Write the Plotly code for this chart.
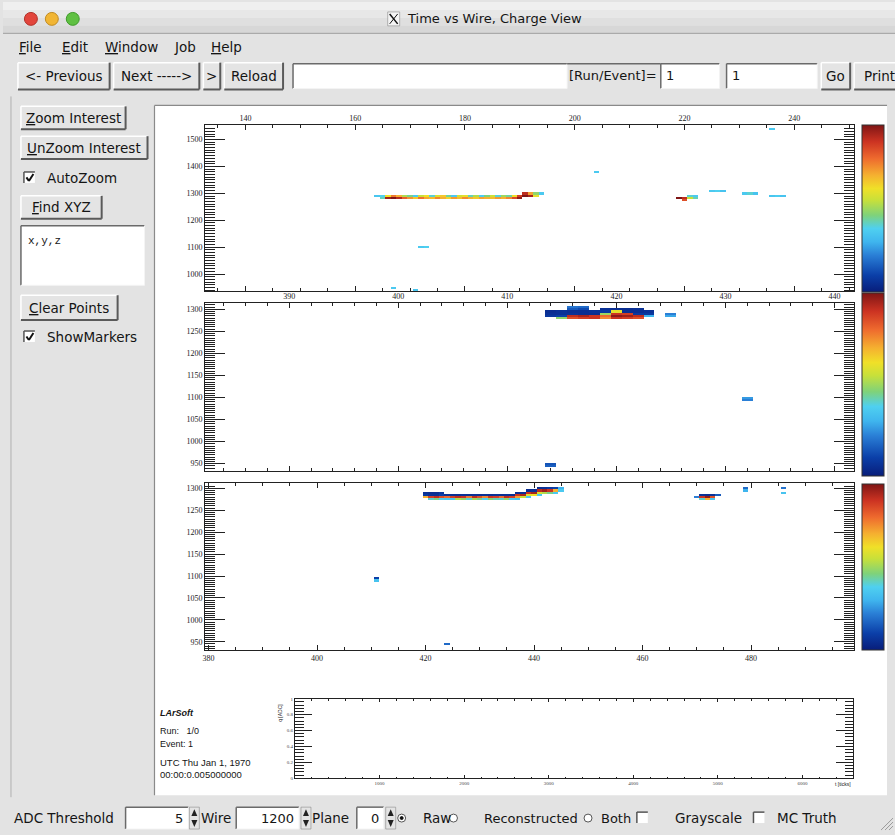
import plotly.graph_objects as go

W, H = 895, 835

# ---------------- data: hits (wire, tick, ADC) per plane ----------------
# plane 0 (top view)
plane0_wire = [164, 165, 166, 167, 168, 169, 170, 171, 172, 173, 174, 175, 176, 177, 178, 179,
               180, 181, 182, 183, 184, 185, 186, 187, 188, 189, 190, 191, 192, 193, 194,
               165, 166, 167, 168, 169, 170, 171, 172, 173, 174, 175, 176, 177, 178, 179,
               180, 181, 182, 183, 184, 185, 186, 187, 188, 189, 190, 191, 192, 193,
               204, 219, 220, 220, 221, 222, 221, 222, 225, 226, 227, 231, 232, 233,
               236, 237, 238, 236, 172, 173, 167, 171]
plane0_tick = [1292, 1292, 1292, 1292, 1292, 1292, 1292, 1292, 1292, 1292, 1292, 1292, 1292, 1292, 1292, 1292,
               1292, 1292, 1292, 1292, 1292, 1292, 1292, 1292, 1292, 1292, 1292, 1300, 1300, 1300, 1300,
               1284, 1284, 1284, 1284, 1284, 1284, 1284, 1284, 1284, 1284, 1284, 1284, 1284, 1284, 1284,
               1284, 1284, 1284, 1284, 1284, 1284, 1284, 1284, 1284, 1284, 1284, 1292, 1292, 1292,
               1380, 1284, 1284, 1276, 1284, 1284, 1292, 1292, 1308, 1308, 1308, 1300, 1300, 1300,
               1292, 1292, 1292, 1540, 1100, 1100, 948, 940]
plane0_adc = [35, 38, 62, 78, 70, 52, 45, 36, 55, 62, 40, 58, 66, 44, 36, 57,
              60, 42, 52, 37, 46, 56, 40, 50, 44, 62, 88, 92, 72, 48, 36,
              42, 96, 100, 93, 82, 74, 66, 79, 71, 68, 76, 70, 64, 73, 68,
              75, 70, 66, 72, 70, 68, 73, 70, 76, 86, 98, 100, 95, 60,
              36, 100, 92, 85, 55, 42, 40, 36, 36, 38, 34, 36, 40, 34,
              35, 37, 34, 36, 36, 38, 36, 35]

# plane 1 (middle view)
plane1_wire = [416, 417,
               416, 417, 419, 420, 421, 422,
               414, 415, 416, 417, 418, 419, 420, 421, 422, 423,
               414, 415, 416, 417, 418, 419, 420, 421, 422, 423,
               414, 415, 416, 417, 418, 419, 420, 421, 422, 423,
               415, 416, 417, 418, 419, 420, 421, 422,
               425, 425, 432, 432, 414, 414]
plane1_tick = [1305, 1305,
               1300, 1300, 1300, 1300, 1300, 1300,
               1295, 1295, 1295, 1295, 1295, 1295, 1295, 1295, 1295, 1295,
               1290, 1290, 1290, 1290, 1290, 1290, 1290, 1290, 1290, 1290,
               1285, 1285, 1285, 1285, 1285, 1285, 1285, 1285, 1285, 1285,
               1280, 1280, 1280, 1280, 1280, 1280, 1280, 1280,
               1290, 1285, 1100, 1095, 950, 945]
plane1_adc = [20, 18,
              15, 12, 6, 5, 5, 6,
              5, 6, 5, 5, 6, 8, 60, 5, 5, 6,
              6, 6, 6, 5, 5, 50, 90, 88, 8, 8,
              8, 10, 92, 95, 90, 80, 98, 96, 92, 30,
              48, 85, 88, 90, 75, 90, 88, 85,
              22, 28, 26, 22, 14, 16]

# plane 2 (bottom view)
plane2_wire = [420, 420, 420, 421, 421, 421, 421, 422, 422, 422, 422, 423, 423, 423, 423,
               424, 424, 424, 425, 425, 425, 426, 426, 426, 427, 427, 427, 428, 428, 428,
               429, 429, 429, 430, 430, 430, 431, 431, 431, 432, 432, 432, 433, 433, 433,
               434, 434, 434, 435, 435, 435, 436, 436, 436,
               437, 437, 437, 437, 438, 438, 438, 439, 439, 439, 439, 440, 440, 440,
               441, 441, 441, 441, 442, 442, 442, 443, 443, 443, 444, 444, 444, 445, 445,
               470, 471, 471, 471, 472, 472, 472, 473, 473, 473, 474,
               479, 479, 486, 486, 411, 411, 424]
plane2_tick = [1290, 1285, 1280, 1290, 1285, 1280, 1275, 1290, 1285, 1280, 1275, 1290, 1285, 1280, 1275,
               1285, 1280, 1275, 1285, 1280, 1275, 1285, 1280, 1275, 1285, 1280, 1275, 1285, 1280, 1275,
               1285, 1280, 1275, 1285, 1280, 1275, 1285, 1280, 1275, 1285, 1280, 1275, 1285, 1280, 1275,
               1285, 1280, 1275, 1285, 1280, 1275, 1285, 1280, 1275,
               1290, 1285, 1280, 1275, 1290, 1285, 1280, 1295, 1290, 1285, 1280, 1295, 1290, 1285,
               1300, 1295, 1290, 1285, 1300, 1295, 1290, 1300, 1295, 1290, 1300, 1295, 1290, 1300, 1295,
               1280, 1285, 1280, 1275, 1285, 1280, 1275, 1285, 1280, 1275, 1285,
               1300, 1295, 1300, 1290, 1095, 1090, 945]
plane2_adc = [6, 8, 70, 5, 6, 88, 40, 5, 6, 92, 45, 8, 10, 85, 38,
              6, 80, 36, 5, 88, 35, 5, 92, 52, 6, 90, 48, 5, 78, 40,
              6, 92, 50, 5, 85, 45, 6, 76, 38, 5, 90, 46, 6, 88, 42,
              5, 80, 40, 6, 92, 48, 5, 88, 36,
              5, 90, 72, 34, 6, 94, 55, 5, 90, 60, 36, 6, 95, 62,
              5, 92, 58, 36, 6, 96, 52, 8, 90, 45, 10, 70, 36, 30, 36,
              22, 6, 90, 40, 5, 98, 70, 6, 85, 35, 15,
              18, 30, 20, 34, 10, 34, 18]

plane0_xticks = [140, 160, 180, 200, 220, 240]
plane0_yticks = [1000, 1100, 1200, 1300, 1400, 1500]
plane1_xticks = [390, 400, 410, 420, 430, 440]
plane1_yticks = [950, 1000, 1050, 1100, 1150, 1200, 1250, 1300]
plane2_xticks = [380, 400, 420, 440, 460, 480]
plane2_yticks = [950, 1000, 1050, 1100, 1150, 1200, 1250, 1300]
wave_xticks = [1000, 2000, 3000, 4000, 5000, 6000]
wave_yticks = [0, 0.2, 0.4, 0.6, 0.8, 1]
wave_yticklabels = ["0", "0.2", "0.4", "0.6", "0.8", "1"]

ROOT_SCALE = [[0.00, "#081d7a"], [0.10, "#0b3fa8"], [0.22, "#2a7fd6"], [0.30, "#3fb5ee"],
              [0.38, "#4fd0f0"], [0.46, "#7fd27a"], [0.55, "#c8e03a"], [0.62, "#f0e028"],
              [0.70, "#f5b030"], [0.80, "#ee6a2e"], [0.90, "#cc3322"], [1.00, "#7f1515"]]


def X(x):
    return x / W


def Y(y):
    return 1 - y / H


shapes, annots = [], []


def rect(x0, y0, x1, y1, fill=None, line=None, lw=0, layer="below"):
    shapes.append(dict(type="rect", xref="paper", yref="paper", x0=X(x0), x1=X(x1),
                       y0=Y(y1), y1=Y(y0), fillcolor=fill or "rgba(0,0,0,0)",
                       line=dict(color=line or "rgba(0,0,0,0)", width=lw), layer=layer))


def seg(x0, y0, x1, y1, color, lw=1, layer="below"):
    shapes.append(dict(type="line", xref="paper", yref="paper", x0=X(x0), x1=X(x1),
                       y0=Y(y0), y1=Y(y1), line=dict(color=color, width=lw), layer=layer))


def path(pts, fill, line=None, lw=0, layer="below"):
    d = "M " + " L ".join(f"{X(a):.5f},{Y(b):.5f}" for a, b in pts) + " Z"
    shapes.append(dict(type="path", xref="paper", yref="paper", path=d, fillcolor=fill,
                       line=dict(color=line or "rgba(0,0,0,0)", width=lw), layer=layer))


def circle(cx, cy, r, fill=None, line="#555", lw=1):
    shapes.append(dict(type="circle", xref="paper", yref="paper", x0=X(cx - r), x1=X(cx + r),
                       y0=Y(cy + r), y1=Y(cy - r), fillcolor=fill or "rgba(0,0,0,0)",
                       line=dict(color=line, width=lw), layer="below"))


def text(x, y, s, size=13.5, anchor="left", color="#151515", family="DejaVu Sans", angle=0):
    annots.append(dict(x=X(x), y=Y(y), xref="paper", yref="paper", text=s, showarrow=False,
                       xanchor=anchor, yanchor="middle", borderpad=0, textangle=angle,
                       font=dict(size=size, color=color, family=family)))


def button(x0, y0, x1, y1, label, size=13.5):
    rect(x0, y0, x1, y1, fill="#e4e4e4")
    seg(x0, y0, x1, y0, "#ffffff", 1.5)
    seg(x0, y0, x0, y1, "#ffffff", 1.5)
    seg(x0, y1, x1, y1, "#5a5a5a", 2)
    seg(x1, y0, x1, y1, "#5a5a5a", 2)
    text((x0 + x1) / 2, (y0 + y1) / 2, label, size=size, anchor="center")


def entry(x0, y0, x1, y1, fill="#ffffff"):
    rect(x0, y0, x1, y1, fill=fill)
    seg(x0, y0, x1, y0, "#6a6a6a", 1.5)
    seg(x0, y0, x0, y1, "#6a6a6a", 1.5)
    seg(x0, y1, x1, y1, "#f4f4f4", 1)
    seg(x1, y0, x1, y1, "#f4f4f4", 1)


def checkbox(x0, y0, size=11, checked=True):
    rect(x0, y0, x0 + size, y0 + size, fill="#ffffff")
    seg(x0, y0, x0 + size, y0, "#555", 1.5)
    seg(x0, y0, x0, y0 + size, "#555", 1.5)
    if checked:
        seg(x0 + 2.5, y0 + 5.5, x0 + 5, y0 + 9, "#111", 2)
        seg(x0 + 5, y0 + 9, x0 + 9.5, y0 + 2, "#111", 2)


def spin(x, y0, y1):
    ym = (y0 + y1) / 2
    rect(x, y0, x + 10, y1, fill="#e4e4e4", line="#888", lw=0.6)
    path([(x + 2, ym - 2), (x + 8, ym - 2), (x + 5, y0 + 2)], "#222")
    path([(x + 2, ym + 2), (x + 8, ym + 2), (x + 5, y1 - 2)], "#222")


# ---------------- window chrome ----------------
bands = ["#efefef", "#e7e7e7", "#dfdfdf", "#d7d7d7"]
for k, c in enumerate(bands):
    rect(0, k * 8, W, k * 8 + 8 if k < 3 else 31, fill=c)
seg(0, 31.5, W, 31.5, "#9c9c9c", 1)
circle(28, 17, 6.5, fill="#e2453c", line="#b03028")
circle(49, 17, 6.5, fill="#f1b534", line="#c08a20")
circle(70, 17, 6.5, fill="#5fc042", line="#3f9a2a")
rect(386, 10, 398, 24, fill="#f4f4f4", line="#888", lw=0.6)
seg(388, 12, 396, 22, "#111", 1.5)
seg(396, 12, 388, 22, "#111", 1)
text(404, 17, "Time vs Wire, Charge View", size=13)

# menu
menu = [(15, "<u>F</u>ile"), (58, "<u>E</u>dit"), (101, "<u>W</u>indow"), (171, "<u>J</u>ob"), (208, "<u>H</u>elp")]
for x, s in menu:
    text(x, 45, s, size=13.5)

# toolbar
button(15, 61, 107, 88, "&lt;- Previous")
button(111, 61, 197, 88, "Next -----&gt;")
button(201, 61, 218, 88, "&gt;")
button(222, 61, 281, 88, "Reload")
entry(291, 62, 566, 87)
seg(566, 62, 660, 62, "#6a6a6a", 1.5)
text(657, 74, "[Run/Event]=", size=13, anchor="right")
entry(660, 62, 719, 87)
text(664, 74, "1", size=13)
entry(726, 62, 817, 87)
text(730, 74, "1", size=13)
button(821, 61, 850, 88, "Go")
button(854, 61, 905, 88, "Print")

# left column
seg(8, 95, 8, 800, "#b0b0b0", 1)
button(18, 105, 123, 128, "<u>Z</u>oom Interest")
button(18, 135, 145, 158, "<u>U</u>nZoom Interest")
checkbox(21, 171)
text(43, 177, "AutoZoom", size=13.5)
button(18, 195, 99, 218, "<u>F</u>ind XYZ")
entry(18, 225, 142, 285)
text(24, 240, "x,y,z", size=11, family="Liberation Mono")
button(18, 295, 115, 320, "<u>C</u>lear Points")
checkbox(21, 331)
text(43, 337, "ShowMarkers", size=13.5)

# canvas
rect(152, 104, 887, 798, fill="#ffffff")
seg(152, 104, 887, 104, "#8a8a8a", 1.2)
seg(152, 104, 152, 798, "#8a8a8a", 1.2)

# bottom controls
text(10, 821, "ADC Threshold", size=13.5)
entry(123, 810, 186, 832)
text(182, 821, "5", size=13, anchor="right")
spin(187, 810, 832)
text(198, 821, "Wire", size=13.5)
entry(234, 810, 297, 832)
text(293, 821, "1200", size=13, anchor="right")
spin(299, 810, 832)
text(309, 821, "Plane", size=13.5)
entry(355, 810, 382, 832)
text(378, 821, "0", size=13, anchor="right")
spin(384, 810, 832)
circle(400, 821, 4, fill="#ffffff", line="#555")
circle(400, 821, 1.5, fill="#111", line="#111")
text(420, 821, "Raw", size=13.5)
circle(452, 821, 4, fill="#ffffff", line="#555")
text(482, 821, "Reconstructed", size=13)
circle(587, 821, 4, fill="#ffffff", line="#555")
text(599, 821, "Both", size=13)
checkbox(636, 815, checked=False)
text(673, 821, "Grayscale", size=13.5)
checkbox(753, 815, checked=False)
text(776, 821, "MC Truth", size=13.5)
for k in range(3):
    seg(893 - 4 * k - 4, 833, 893, 833 - 4 * k - 4, "#9a9a9a", 1, "above")

# run info text
text(157, 715, "<b><i>LArSoft</i></b>", size=9, family="Liberation Sans")
text(157, 733, "Run:   1/0", size=9, family="Liberation Sans")
text(157, 746, "Event: 1", size=9, family="Liberation Sans")
text(157, 765, "UTC Thu Jan 1, 1970", size=9.5, family="Liberation Sans")
text(157, 777, "00:00:0.005000000", size=9.5, family="Liberation Sans")
text(274, 715, "q [ADC]", size=5, family="Liberation Sans", angle=-90)
text(852, 787, "t [ticks]", size=5, family="Liberation Sans", anchor="right")


# ---------------- heat maps ----------------
def grid(wires, ticks, adcs, x0, nx, y0, dy, ny):
    z = [[None] * nx for _ in range(ny)]
    for w, t, a in zip(wires, ticks, adcs):
        j = int(round(w - x0))
        i = int(round((t - y0) / dy))
        if 0 <= i < ny and 0 <= j < nx:
            z[i][j] = a if z[i][j] is None else max(z[i][j], a)
    return z


fig = go.Figure()
specs = [
    (plane0_wire, plane0_tick, plane0_adc, 133, 119, 940, 8, 77, "x", "y", "coloraxis"),
    (plane1_wire, plane1_tick, plane1_adc, 382, 61, 935, 5, 77, "x2", "y2", "coloraxis2"),
    (plane2_wire, plane2_tick, plane2_adc, 379, 121, 930, 5, 77, "x3", "y3", "coloraxis3"),
]
for wv, tv, av, x0, nx, y0, dy, ny, xa, ya, ca in specs:
    fig.add_trace(go.Heatmap(z=grid(wv, tv, av, x0, nx, y0, dy, ny), x0=x0, dx=1, y0=y0, dy=dy,
                             xaxis=xa, yaxis=ya, coloraxis=ca, hoverinfo="skip", zsmooth=False))
fig.add_trace(go.Scatter(x=[], y=[], xaxis="x4", yaxis="y4", showlegend=False))

TF = dict(family="Liberation Serif", size=8, color="#222222")
base = dict(showgrid=False, zeroline=False, showline=True, linecolor="#222", linewidth=1.2,
            mirror="allticks", ticks="inside", tickcolor="#222", tickwidth=1, tickmode="array",
            tickfont=TF)


def xax(dom, rng, tv, side, anchor, minor, tl=5, font=TF):
    d = dict(base)
    d.update(domain=[X(dom[0]), X(dom[1])], range=rng, tickvals=tv, side=side, anchor=anchor,
             ticklen=tl, tickfont=font,
             minor=dict(tickmode="linear", tick0=0, dtick=minor, ticklen=tl * 0.55,
                        ticks="inside", tickcolor="#222", tickwidth=0.8))
    return d


def yax(dom, rng, tv, anchor, minor, tl=20, tt=None, font=TF):
    d = dict(base)
    d.update(domain=[Y(dom[1]), Y(dom[0])], range=rng, tickvals=tv, anchor=anchor,
             ticklen=tl, tickfont=font,
             minor=dict(tickmode="linear", tick0=0, dtick=minor, ticklen=tl * 0.5,
                        ticks="inside", tickcolor="#222", tickwidth=0.8))
    if tt:
        d["ticktext"] = tt
    return d


PX = (203, 854)
small = dict(family="Liberation Serif", size=5, color="#444")


def cax(y0, y1):
    return dict(colorscale=ROOT_SCALE, cmin=0, cmax=100,
                colorbar=dict(x=X(862), xanchor="left", thickness=22, thicknessmode="pixels",
                              len=(y1 - y0) / H, lenmode="fraction", y=Y((y0 + y1) / 2),
                              yanchor="middle", outlinewidth=1, outlinecolor="#333",
                              showticklabels=False, ticks="", xpad=0, ypad=0))


fig.update_layout(
    width=W, height=H, margin=dict(l=0, r=0, t=0, b=0),
    paper_bgcolor="#e3e3e3", plot_bgcolor="#ffffff", showlegend=False,
    xaxis=xax(PX, [132.7, 250.9], plane0_xticks, "top", "y", 5),
    yaxis=yax((124, 291), [936, 1553], plane0_yticks, "x", 10),
    xaxis2=xax(PX, [382.3, 441.8], plane1_xticks, "top", "y2", 2),
    yaxis2=yax((303, 472), [933, 1314], plane1_yticks, "x2", 5),
    xaxis3=xax(PX, [379.4, 499], plane2_xticks, "bottom", "y3", 5),
    yaxis3=yax((484, 652), [931, 1312], plane2_yticks, "x3", 5),
    xaxis4=xax((293, 853), [0, 6600], wave_xticks, "bottom", "y4", 200, tl=3, font=small),
    yaxis4=yax((701, 781), [0, 1], wave_yticks, "x4", 0.04, tl=17, tt=wave_yticklabels, font=small),
    coloraxis=cax(124, 292), coloraxis2=cax(293, 477), coloraxis3=cax(485, 652),
    shapes=shapes, annotations=annots,
)

# dark marker lines on the palettes
for yy in (252, 435, 610):
    fig.add_shape(type="line", xref="paper", yref="paper", x0=X(862), x1=X(884), y0=Y(yy), y1=Y(yy),
                  line=dict(color="#0b2748", width=1.5), layer="above")

fig.write_html("out.html", config={"displayModeBar": False},
               post_script="document.body.style.margin='0';document.body.style.overflow='hidden';")
